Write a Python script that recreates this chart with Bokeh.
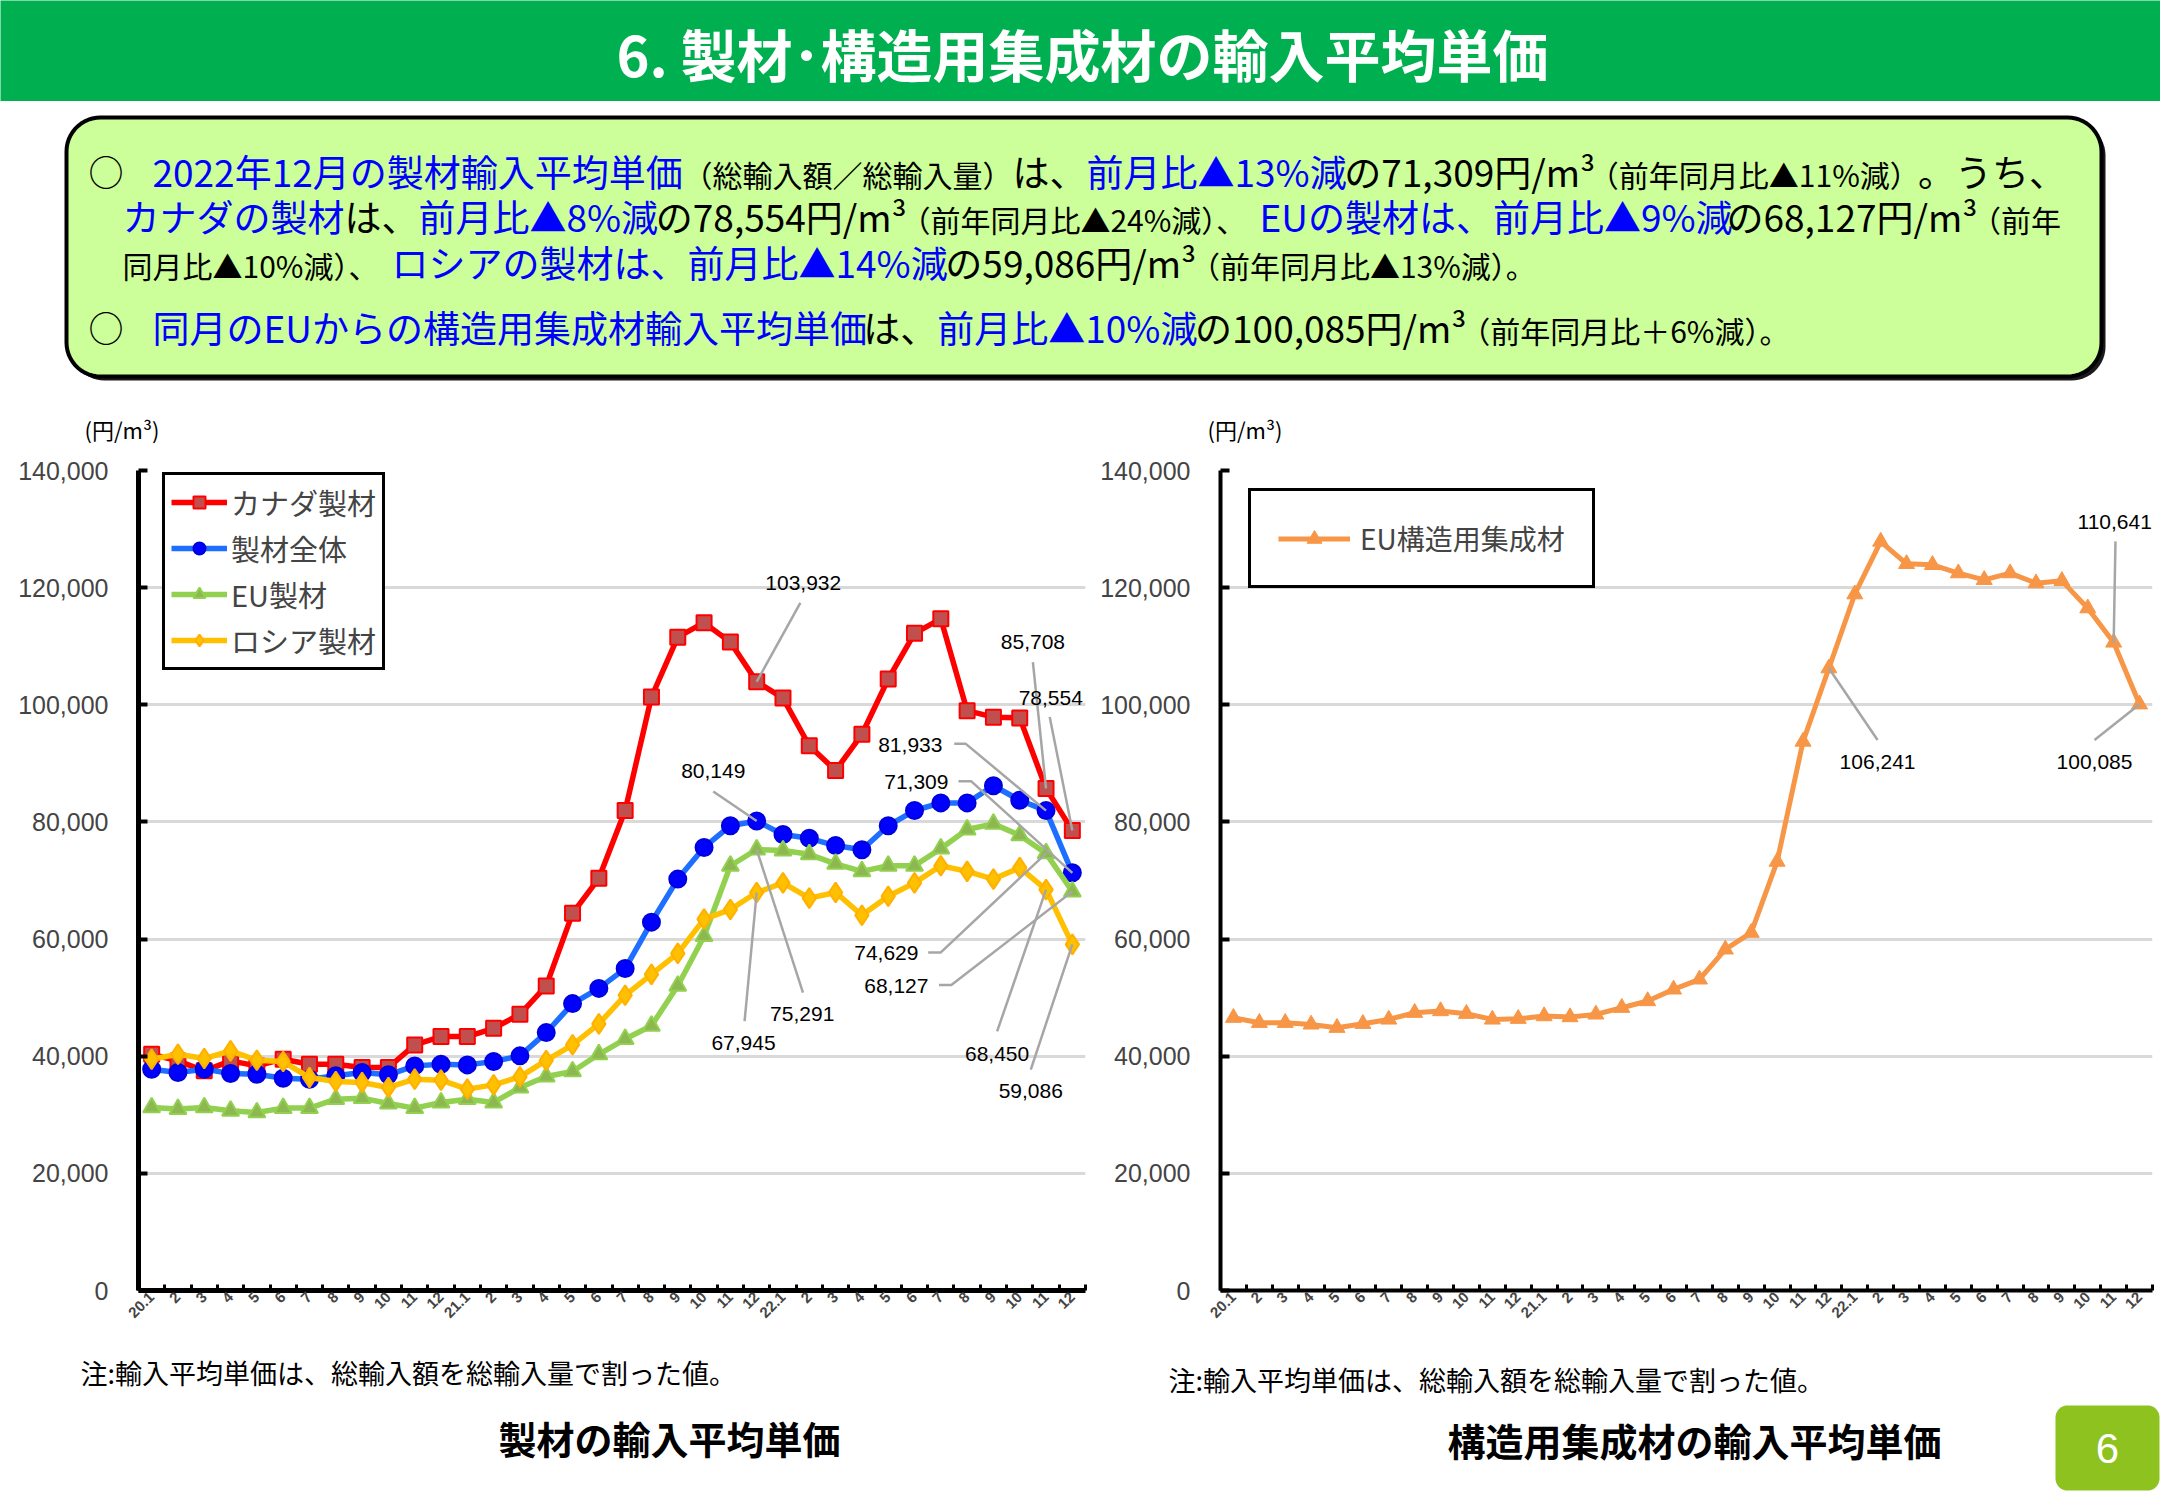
import numpy as np
from bokeh.plotting import figure
from bokeh.models import Range1d, FixedTicker, NumeralTickFormatter, Legend, LegendItem
from bokeh.layouts import column, row
from bokeh.embed import file_html
from bokeh.resources import INLINE
from bokeh.core.properties import value

# ---------------- data ----------------
months = ["20.1", "2", "3", "4", "5", "6", "7", "8", "9", "10", "11", "12",
          "21.1", "2", "3", "4", "5", "6", "7", "8", "9", "10", "11", "12",
          "22.1", "2", "3", "4", "5", "6", "7", "8", "9", "10", "11", "12"]

canada = [40340, 39200, 37500, 39200, 38350, 39490, 38640, 38640, 38070, 38070, 41930, 43350,
          43350, 44770, 47160, 52000, 64390, 70370, 81950, 101330, 111545, 114016, 110700, 103932,
          101140, 93010, 88780, 94960, 104390, 112200, 114670, 98990, 97890, 97760, 85708, 78554]
total = [37790, 37220, 37790, 37050, 36930, 36250, 36080, 36650, 37220, 36820, 38350, 38640,
         38520, 39090, 40060, 44030, 48980, 51580, 54960, 62890, 70240, 75640, 79350, 80149,
         77850, 77200, 75970, 75250, 79350, 81950, 83250, 83250, 86180, 83710, 81933, 71309]
eu = [31250, 30970, 31250, 30680, 30400, 31140, 31140, 32670, 32840, 31930, 31140, 32100,
      32670, 32100, 34660, 36540, 37400, 40330, 42930, 45200, 52030, 60490, 72520, 75291,
      75120, 74470, 72850, 71550, 72520, 72520, 75450, 78700, 79670, 77720, 74629, 68127]
russia = [39490, 40340, 39600, 40910, 39320, 39090, 36360, 35680, 35510, 34660, 36080, 35910,
          34380, 35110, 36480, 39280, 41950, 45530, 50400, 53980, 57560, 63410, 65040, 67945,
          69590, 66990, 67960, 64060, 67310, 69590, 72520, 71550, 70240, 72190, 68450, 59086]
glulam = [46570, 45710, 45710, 45430, 44860, 45540, 46280, 47420, 47710, 47250, 46280, 46400,
          46850, 46680, 47140, 48280, 49420, 51410, 53120, 58240, 61090, 73220, 93720, 106241,
          118880, 127870, 124060, 123890, 122470, 121330, 122470, 120760, 121160, 116490, 110641, 100085]

y_ticks = [0, 20000, 40000, 60000, 80000, 100000, 120000, 140000]

JP = "Noto Sans CJK JP"
NUM = "Liberation Sans"
BLUE = "#0000FF"
BLACK = "#000000"


def tw(s, size):
    w = 0.0
    for ch in s:
        if ch in "0123456789":
            w += 0.554
        elif ch in ",.":
            w += 0.27
        elif ch == "%":
            w += 0.86
        elif ch == "/":
            w += 0.36
        elif ch == "m":
            w += 0.84
        elif ch == "³":
            w += 0.37
        elif ch == "E":
            w += 0.55
        elif ch == "U":
            w += 0.66
        elif ch == " ":
            w += 0.25
        else:
            w += 1.0
    return w * size


def page_fig(w, y_top, y_bot, bg="white"):
    p = figure(width=w, height=y_bot - y_top, x_range=Range1d(0, w),
               y_range=Range1d(y_bot, y_top), output_backend="svg",
               toolbar_location=None, title=None, x_axis_type=None, y_axis_type=None,
               min_border_left=0, min_border_right=0, min_border_top=0, min_border_bottom=0)
    p.outline_line_color = None
    p.background_fill_color = bg
    p.border_fill_color = bg
    return p


def put_text(p, x, y, txt, color=BLACK, size=37, font=JP, style="normal", align="left", baseline="middle"):
    p.text(x=[x], y=[y], text=[txt], text_color=color, text_font=value(font),
           text_font_size=f"{size}px", text_font_style=style, text_align=align,
           text_baseline=baseline)


def rounded_rect(x0, y0, x1, y1, r, n=14):
    xs, ys = [], []
    for cx, cy, a0 in [(x1 - r, y0 + r, -90), (x1 - r, y1 - r, 0), (x0 + r, y1 - r, 90), (x0 + r, y0 + r, 180)]:
        for a in np.linspace(a0, a0 + 90, n):
            t = np.radians(a)
            xs.append(cx + r * np.cos(t))
            ys.append(cy + r * np.sin(t))
    return xs, ys


W = 2160

# ---------------- header ----------------
hdr = page_fig(W, 0, 101, "#00B050")
put_text(hdr, 1082, 52, "6. 製材･構造用集成材の輸入平均単価", "white", 56, style="bold", align="center")

# ---------------- text box ----------------
tb = page_fig(W, 101, 445)
sx, sy = rounded_rect(70, 121, 2105, 380, 34)
tb.patch(sx, sy, fill_color="#1a1a1a", line_color=None)
bx, by = rounded_rect(66, 117, 2101, 376, 34)
tb.patch(bx, by, fill_color="#CCFF99", line_color="black", line_width=4)

lines = [
    (170, 152, [("2022年12月の製材輸入平均単価", BLUE, 37), ("（総輸入額／総輸入量）", BLACK, 30), ("は、", BLACK, 37),
                ("前月比▲13%減", BLUE, 37), ("の71,309円/m³", BLACK, 37), ("（前年同月比▲11%減）", BLACK, 30),
                ("。うち、", BLACK, 37)]),
    (215, 122, [("カナダの製材", BLUE, 37), ("は、", BLACK, 37), ("前月比▲8%減", BLUE, 37),
                ("の78,554円/m³", BLACK, 37), ("（前年同月比▲24%減）、", BLACK, 30),
                ("EUの製材は、前月比▲9%減", BLUE, 37), ("の68,127円/m³", BLACK, 37), ("（前年", BLACK, 30)]),
    (261, 122, [("同月比▲10%減）、", BLACK, 30), ("ロシアの製材は、前月比▲14%減", BLUE, 37),
                ("の59,086円/m³", BLACK, 37), ("（前年同月比▲13%減）。", BLACK, 30)]),
    (326, 152, [("同月のEUからの構造用集成材輸入平均単価", BLUE, 37), ("は、", BLACK, 37), ("前月比▲10%減", BLUE, 37),
                ("の100,085円/m³", BLACK, 37), ("（前年同月比＋6%減）。", BLACK, 30)]),
]
for y, x, segs in lines:
    for txt, col, size in segs:
        dy = 3 if size < 35 else 0
        put_text(tb, x, y + dy, txt, col, size)
        x += tw(txt, size)
for by_ in (170, 326):
    put_text(tb, 88, by_, "○", BLACK, 35)

put_text(tb, 84, 428, "(円/m³)", BLACK, 22)
put_text(tb, 1207, 428, "(円/m³)", BLACK, 22)

# ---------------- charts ----------------
xs = list(range(36))


def make_chart(width, left_b, frame_w, frame_h, bottom, axis_w):
    p = figure(width=width, height=25 + frame_h + bottom, x_range=Range1d(-0.5, 35.5),
               y_range=Range1d(0, 140000), output_backend="svg", toolbar_location=None, title=None,
               min_border_left=left_b, min_border_right=width - left_b - frame_w,
               min_border_top=25, min_border_bottom=bottom)
    p.outline_line_color = None
    p.xgrid.visible = False
    p.ygrid.grid_line_color = "#D9D9D9"
    p.ygrid.grid_line_width = 3
    p.yaxis.ticker = FixedTicker(ticks=y_ticks)
    p.yaxis.formatter = NumeralTickFormatter(format="0,0")
    p.yaxis.major_label_text_font = NUM
    p.yaxis.major_label_text_font_size = "25px"
    p.yaxis.major_label_standoff = 30
    p.yaxis.major_tick_in = 9
    p.yaxis.major_tick_out = 0
    p.yaxis.major_tick_line_width = 4
    p.yaxis.minor_tick_line_color = None
    p.yaxis.axis_line_width = axis_w
    p.xaxis.ticker = FixedTicker(ticks=xs, minor_ticks=[i - 0.5 for i in range(37)])
    p.xaxis.major_label_overrides = {i: m for i, m in enumerate(months)}
    p.xaxis.major_label_orientation = np.pi / 4
    p.xaxis.major_label_text_font = NUM
    p.xaxis.major_label_text_font_style = "bold"
    p.xaxis.major_label_text_font_size = "15px"
    p.xaxis.major_label_standoff = 4
    p.xaxis.major_tick_in = 0
    p.xaxis.major_tick_out = 0
    p.xaxis.minor_tick_in = 6
    p.xaxis.minor_tick_out = 0
    p.xaxis.minor_tick_line_width = 3
    p.xaxis.axis_line_width = axis_w
    return p


def annotate(p, series, idx, lx, ly, path):
    v = series[idx]
    pts = path + [(idx, v)]
    p.line([a for a, b in pts], [b for a, b in pts], line_color="#A6A6A6", line_width=2.5)
    p.text(x=[lx], y=[ly], text=[f"{v:,}"], text_font=value(NUM), text_font_size="21px",
           text_align="center", text_baseline="middle", text_color="black")


def style_legend(lg, size):
    lg.label_text_font = JP
    lg.label_text_font_size = f"{size}px"
    lg.border_line_color = "black"
    lg.border_line_alpha = 1.0
    lg.border_line_width = 3
    lg.background_fill_alpha = 1.0
    lg.margin = 0


# left chart
lp = make_chart(1090, 138, 947, 825, 50, 5)
series_spec = [
    ("カナダ製材", canada, "#FF0000", "square", "#C0504D", "#FF0000", 15),
    ("製材全体", total, "#1E6FFF", "circle", "#0000FF", "#0000DD", 17),
    ("EU製材", eu, "#92D050", "triangle", "#8DB750", "#92D050", 17),
    ("ロシア製材", russia, "#FFC000", "diamond", "#FFC000", "#FFB000", 20),
]
items = []
for name, ys, lc, mk, fc, mlc, sz in series_spec:
    rl = lp.line(xs, ys, line_color=lc, line_width=5.5)
    rs = lp.scatter(xs, ys, marker=mk, size=sz, fill_color=fc, line_color=mlc, line_width=2)
    items.append(LegendItem(label=name, renderers=[rl, rs]))

left_ann = [
    (canada, 23, 24.77, 120770, [(24.66, 117400)]),
    (total, 23, 21.35, 88650, [(21.35, 85200)]),
    (russia, 23, 22.5, 42280, [(22.54, 45980)]),
    (eu, 23, 24.73, 47290, [(24.76, 50860)]),
    (canada, 34, 33.5, 110700, [(33.5, 107300)]),
    (canada, 35, 34.18, 101140, [(34.14, 97900)]),
    (total, 34, 28.84, 93200, [(30.51, 93330), (30.95, 93330)]),
    (total, 35, 29.07, 86830, [(30.67, 86960), (31.15, 86960)]),
    (eu, 34, 27.93, 57560, [(29.52, 57690), (29.99, 57690)]),
    (eu, 35, 28.31, 52030, [(29.93, 52160), (30.40, 52160)]),
    (russia, 34, 32.14, 40450, [(32.14, 44230)]),
    (russia, 35, 33.42, 34140, [(33.42, 37720)]),
]
for a in left_ann:
    annotate(lp, *a)

leg = Legend(items=items, location=(24, 620))
style_legend(leg, 29)
leg.glyph_width = 56
leg.glyph_height = 30
leg.label_height = 30
leg.label_standoff = 4
leg.spacing = 4
leg.padding = 6
lp.add_layout(leg)

# right chart
rp = make_chart(1070, 130, 932, 820, 55, 4)
rl = rp.line(xs, glulam, line_color="#F79646", line_width=5)
rs = rp.scatter(xs, glulam, marker="triangle", size=16, fill_color="#F79646", line_color="#F79646")
for a in [
    (glulam, 23, 24.88, 90300, [(24.88, 94000)]),
    (glulam, 34, 34.04, 131290, [(34.07, 127900)]),
    (glulam, 35, 33.26, 90300, [(33.26, 94000)]),
]:
    annotate(rp, *a)
leg2 = Legend(items=[LegendItem(label="EU構造用集成材", renderers=[rl, rs])], location=(28, 702))
style_legend(leg2, 28)
leg2.glyph_width = 72
leg2.glyph_height = 37
leg2.label_height = 37
leg2.label_standoff = 10
leg2.padding = 27
rp.add_layout(leg2)

# ---------------- bottom ----------------
bt = page_fig(W, 1345, 1494)
put_text(bt, 80, 1372, "注:輸入平均単価は、総輸入額を総輸入量で割った値。", BLACK, 27)
put_text(bt, 1168, 1379, "注:輸入平均単価は、総輸入額を総輸入量で割った値。", BLACK, 27)
put_text(bt, 669, 1437, "製材の輸入平均単価", BLACK, 38, style="bold", align="center")
put_text(bt, 1694, 1439, "構造用集成材の輸入平均単価", BLACK, 38, style="bold", align="center")
px_, py_ = rounded_rect(2055, 1405, 2159, 1490, 12)
bt.patch(px_, py_, fill_color="#8DC21F", line_color=None)
put_text(bt, 2107, 1448, "6", "white", 42, font=NUM, align="center")

layout = column(hdr, tb, row(lp, rp), bt)
open("out.html", "w").write(file_html(layout, INLINE))
